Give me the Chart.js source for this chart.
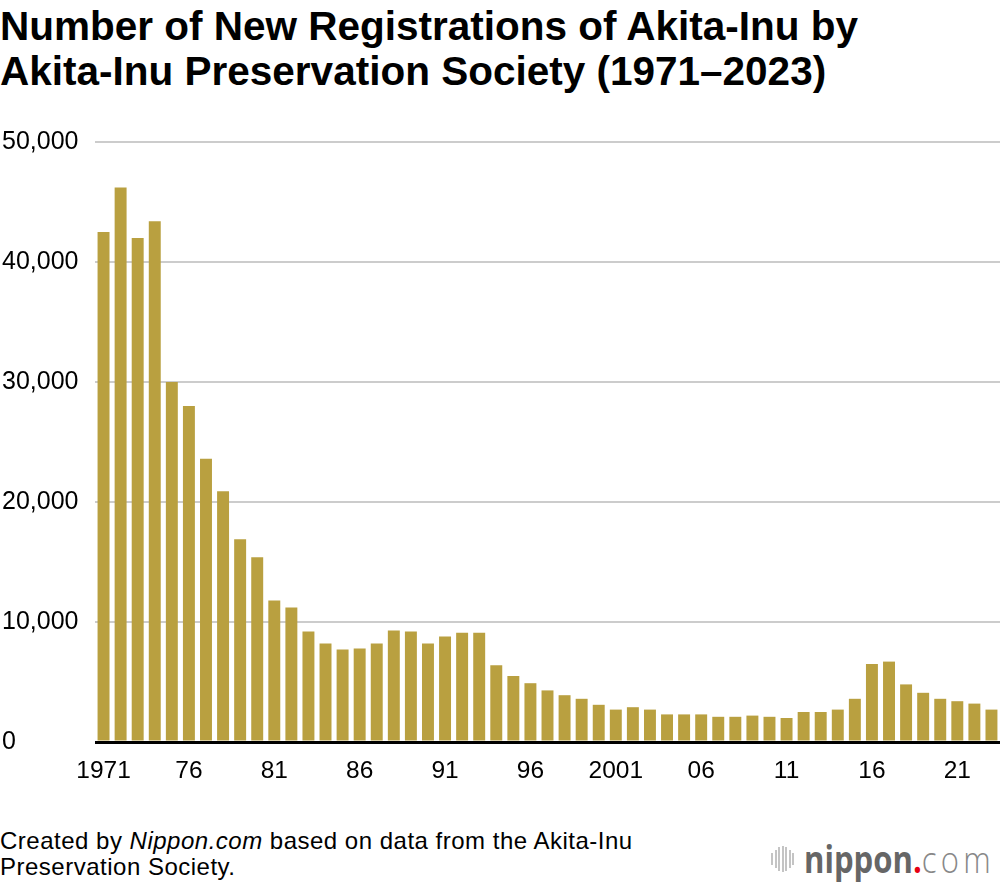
<!DOCTYPE html>
<html>
<head>
<meta charset="utf-8">
<script src="https://cdn.jsdelivr.net/npm/chart.js@4.4.0/dist/chart.umd.min.js"></script>
<style>
body{margin:0;background:#fff;font-family:"Liberation Sans",Arial,sans-serif;}
#wrap{position:relative;width:1000px;height:886px;overflow:hidden;}
#title{position:absolute;left:0;top:4px;font-weight:bold;font-size:40.5px;line-height:45px;color:#000;}
#box{position:absolute;left:0;top:0;width:1000px;height:800px;}
#note{position:absolute;left:0;top:828px;font-size:24px;line-height:26px;color:#000;letter-spacing:0.5px;}
#logo{position:absolute;left:771px;top:833px;height:50px;white-space:nowrap;}
#logo .bars{display:inline-block;vertical-align:middle;margin-right:8px;}
#logo .bars span{display:inline-block;width:2px;background:#c4c4c4;margin-right:1.5px;vertical-align:middle;}
#logo .txt{display:inline-block;vertical-align:middle;font-family:"Open Sans",sans-serif;font-size:37px;transform:scaleX(0.84);transform-origin:left center;color:#666;}
</style>
</head>
<body>
<div id="wrap">
<div id="title">Number of New Registrations of Akita-Inu by<br>Akita-Inu Preservation Society (1971–2023)</div>
<div id="box"><canvas id="chart"></canvas></div>
<div id="note">Created by <i>Nippon.com</i> based on data from the Akita-Inu<br>Preservation Society.</div>
<div id="logo"><span class="bars"><span style="height:12px"></span><span style="height:18px"></span><span style="height:24px"></span><span style="height:26px"></span><span style="height:24px"></span><span style="height:18px"></span><span style="height:12px"></span></span><span class="txt"><b>nippon</b><span style="color:#e60012;font-weight:bold">.</span><span style="color:#888;font-weight:300;letter-spacing:5px">com</span></span></div>
</div>
<script>
let years=[];
for(let y=1971;y<=2023;y++){years.push(String(y));}

let registrations=[
42500,46200,42000,43400,30000,28000,23600,20900,16900,15400,
11800,11200,9200,8200,7700,7800,8200,9300,9200,8200,
8800,9100,9100,6400,5500,4900,4300,3900,3600,3100,
2700,2900,2700,2300,2300,2300,2100,2100,2200,2100,
2000,2500,2500,2700,3600,6500,6700,4800,4100,3600,
3400,3200,2700
];

let xTickLabels=["1971","76","81","86","91","96","2001","06","11","16","21"];
let yTicks=[0,10000,20000,30000,40000,50000];

new Chart(document.getElementById("chart"),{
type:'bar',
data:{
labels:years,
datasets:[{
data:registrations,
backgroundColor:'#b9a040',
barPercentage:0.7,
categoryPercentage:1.0
}]
},
options:{
responsive:true,
maintainAspectRatio:false,
animation:false,
layout:{padding:{left:2,top:142,right:0,bottom:0}},
plugins:{legend:{display:false},tooltip:{enabled:false}},
scales:{
x:{
grid:{display:false},
border:{display:false},
ticks:{
autoSkip:false,
maxRotation:0,
padding:7,
color:'#000',
font:{family:'Liberation Sans',size:24.5},
callback:function(v,i){return i%5===0?xTickLabels[i/5]:'';}
},
afterFit:function(s){s.height=58;}
},
y:{
min:0,
max:50000,
afterBuildTicks:function(s){s.ticks=yTicks.map(v=>({value:v}));},
grid:{
drawTicks:false,
color:ctx=>ctx.tick&&ctx.tick.value===0?'#000':'#cccccc',
lineWidth:ctx=>ctx.tick&&ctx.tick.value===0?3:2
},
border:{display:false},
ticks:{
crossAlign:'far',
padding:0,
color:'#000',
font:{family:'Liberation Sans',size:25},
callback:v=>v.toLocaleString('en-US')
},
afterFit:function(s){s.width=93;}
}
}
}
});
</script>
</body>
</html>
